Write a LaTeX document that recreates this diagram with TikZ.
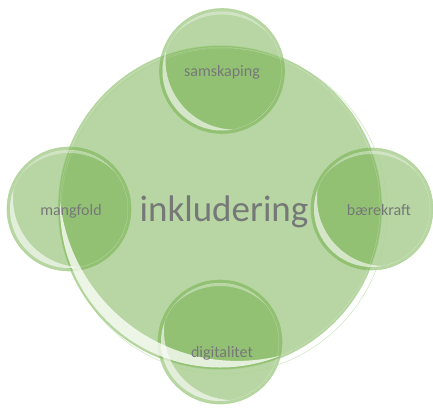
\documentclass[tikz,border=0pt]{standalone}
\usepackage{fontspec}
\setmainfont{Carlito}
\usetikzlibrary{calc}
\definecolor{bgreen}{RGB}{112,173,71}
\definecolor{rimgreen}{RGB}{170,212,145}
\definecolor{txtgray}{RGB}{118,120,120}
\begin{document}
\begin{tikzpicture}[x=1pt,y=-1pt,
  bubble/.style={circle, inner sep=0pt, outer sep=0pt, fill=bgreen, fill opacity=0.5, draw=rimgreen, draw opacity=0.8, line width=0.6pt},
  lbl/.style={text=txtgray, font=\fontsize{16}{19}\selectfont, inner sep=0pt, anchor=base},
  biglbl/.style={text=txtgray, font=\fontsize{37}{44}\selectfont, inner sep=0pt, anchor=base},
  gleam/.style={fill=white, fill opacity=0.6, even odd rule},
  glow/.style={fill=white, fill opacity=0.35, even odd rule},
]
\useasboundingbox (0,0) rectangle (433,407);

% small bubbles
\node[bubble, minimum size=125pt] (sams) at (222,71) {};
\node[bubble, minimum size=124pt] (mang) at (69,209) {};
\node[bubble, minimum size=122pt] (baer) at (372,209) {};
\node[bubble, minimum size=124pt] (digi) at (220,342) {};
% central bubble
\node[bubble, minimum size=324pt] (inkl) at (220,207.5) {};
\draw[rimgreen, draw opacity=0.6, line width=0.5pt] ($(inkl.center)+(4,3.5)$) circle[radius=163pt];

% highlights on small bubbles
\foreach \n/\r in {sams/62.5, mang/62, baer/61, digi/62}{
  \begin{scope}
    \clip (\n.center) circle[radius={(\r-3)*1pt}];
    \fill[gleam] (\n.center) circle[radius={(\r-3)*1pt}]
      ($(\n.center)+(13,-10.9)$) circle[radius={(\r+7)*1pt}];
    \fill[glow] (\n.center) circle[radius={(\r-3)*1pt}]
      ($(\n.center)+(0,9)$) circle[radius={(\r+3)*1pt}];
  \end{scope}
}
% highlight on central bubble
\begin{scope}
  \clip (inkl.center) circle[radius=160pt];
  \fill[gleam, fill opacity=0.75] (inkl.center) circle[radius=160pt]
    ($(inkl.center)+(17.2,-24.6)$) circle[radius=178pt];
\end{scope}

% labels
\node[biglbl] (tinkl) at (224,221) {inkludering};
\node[lbl] (tsams) at (222,76) {samskaping};
\node[lbl] (tmang) at (71,215) {mangfold};
\node[lbl] (tbaer) at (379,215) {bærekraft};
\node[lbl] (tdigi) at (222,357.5) {digitalitet};
\end{tikzpicture}
\end{document}
